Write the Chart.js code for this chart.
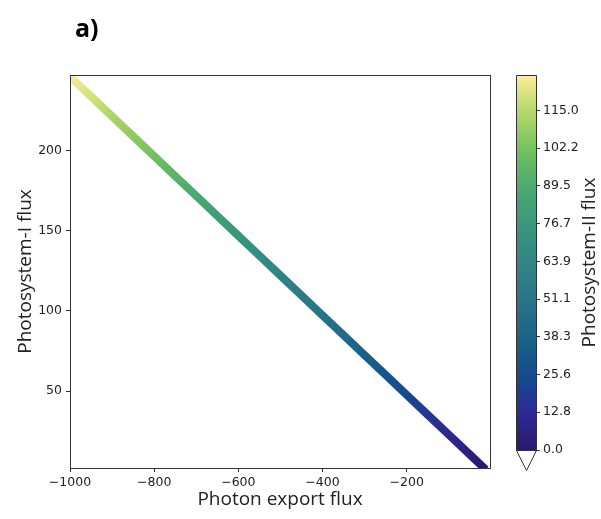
<!DOCTYPE html>
<html>
<head>
<meta charset="utf-8">
<script src="https://cdn.jsdelivr.net/npm/chart.js@4.4.1/dist/chart.umd.min.js"></script>
<style>
html, body { margin: 0; padding: 0; background: #fff; }
#wrap { position: relative; width: 601px; height: 519px; }
#wrap canvas { position: absolute; left: 0; top: 0; }
</style>
</head>
<body>
<div id="wrap">
  <canvas id="main" width="601" height="519"></canvas>
  <canvas id="cbar" width="601" height="519"></canvas>
</div>
<script>
// valores
const photonExport = [-1000, -950, -900, -850, -800, -750, -700, -650, -600, -550, -500,
                      -450, -400, -350, -300, -250, -200, -150, -100, -50, -12];
const psiFlux = [246.0, 233.6, 221.2, 208.8, 196.4, 184.0, 171.6, 159.2, 146.8, 134.4, 122.0,
                 109.6, 97.2, 84.8, 72.4, 60.0, 47.6, 35.2, 22.8, 10.4, 1.0];
const psiiFlux = [126, 120, 113, 107, 101, 94, 88, 81, 75, 69, 62,
                  56, 49, 43, 37, 30, 24, 18, 11, 5, 0];
const xTicks = [-1000, -800, -600, -400, -200];
const yTicks = [50, 100, 150, 200];
const cbTicks = [0.0, 12.8, 25.6, 38.3, 51.1, 63.9, 76.7, 89.5, 102.2, 115.0];
const cbMax = 127.0;

// mapa de color (tipo "haline")
const cmap = [
  [0.00, '#2a186c'], [0.10, '#2c2a96'], [0.20, '#144c8e'], [0.30, '#1a6389'],
  [0.40, '#2a7488'], [0.50, '#318585'], [0.60, '#3a977c'], [0.70, '#4aaa70'],
  [0.80, '#73c160'], [0.90, '#b4d66a'], [1.00, '#fdee99']
];

function hex(c) { return [1, 3, 5].map(i => parseInt(c.substr(i, 2), 16)); }
function colorAt(t) {
  t = Math.max(0, Math.min(1, t));
  for (let i = 1; i < cmap.length; i++) {
    if (t <= cmap[i][0]) {
      const a = cmap[i - 1], b = cmap[i];
      const f = (t - a[0]) / (b[0] - a[0]);
      const ca = hex(a[1]), cb = hex(b[1]);
      const m = ca.map((v, k) => Math.round(v + (cb[k] - v) * f));
      return `rgb(${m[0]},${m[1]},${m[2]})`;
    }
  }
  return cmap[cmap.length - 1][1];
}

const tickFont = { family: 'DejaVu Sans', size: 12.5 };
const titleFont = { family: 'Open Sans', size: 19 };
const ink = '#222';
const frame = '#333';
const fmtMinus = v => (v < 0 ? '\u2212' + Math.abs(v) : String(v));

// gradiente a lo largo de la línea, según el flujo PSII
function lineGradient(context) {
  const chart = context.chart;
  const xs = chart.scales.x, ys = chart.scales.y;
  if (!chart.chartArea || !xs || !ys) return '#318585';
  const px = photonExport.map(v => xs.getPixelForValue(v));
  const py = psiFlux.map(v => ys.getPixelForValue(v));
  const n = px.length - 1;
  const dx = px[n] - px[0], dy = py[n] - py[0];
  const len2 = dx * dx + dy * dy;
  const g = chart.ctx.createLinearGradient(px[0], py[0], px[n], py[n]);
  for (let i = 0; i <= n; i++) {
    const t = ((px[i] - px[0]) * dx + (py[i] - py[0]) * dy) / len2;
    g.addColorStop(Math.max(0, Math.min(1, t)), colorAt(psiiFlux[i] / cbMax));
  }
  return g;
}

const boxPlugin = {
  id: 'box',
  afterDraw(chart) {
    const { ctx, chartArea: a } = chart;
    ctx.save();
    ctx.strokeStyle = frame;
    ctx.lineWidth = 1;
    ctx.strokeRect(Math.round(a.left) + 0.5, Math.round(a.top) + 0.5,
                   Math.round(a.right - a.left), Math.round(a.bottom - a.top));
    ctx.fillStyle = '#000';
    ctx.font = 'bold 25px "Open Sans"';
    ctx.textBaseline = 'alphabetic';
    ctx.fillText('a)', 75, 37);
    ctx.restore();
  }
};

new Chart(document.getElementById('main'), {
  type: 'scatter',
  data: {
    datasets: [{
      data: photonExport.map((x, i) => ({ x: x, y: psiFlux[i] })),
      showLine: true,
      borderColor: lineGradient,
      borderWidth: 8,
      borderCapStyle: 'butt',
      pointRadius: 0,
      clip: 0
    }]
  },
  options: {
    responsive: false,
    animation: false,
    layout: { padding: { top: 75, right: 111, left: 0, bottom: 0 } },
    plugins: { legend: { display: false }, tooltip: { enabled: false } },
    scales: {
      x: {
        type: 'linear', min: -1000, max: -2,
        afterBuildTicks: s => { s.ticks = xTicks.map(v => ({ value: v })); },
        afterFit: s => { s.height = 51; },
        grid: { drawOnChartArea: false, drawTicks: true, tickLength: 4, color: frame },
        border: { color: frame },
        ticks: { font: tickFont, color: ink, padding: 3, maxRotation: 0, autoSkip: false, callback: v => fmtMinus(v) },
        title: { display: true, text: 'Photon export flux', font: titleFont, color: ink, padding: { top: 0, bottom: 8 } }
      },
      y: {
        type: 'linear', min: 2, max: 247,
        afterBuildTicks: s => { s.ticks = yTicks.map(v => ({ value: v })); },
        afterFit: s => { s.width = 70; },
        grid: { drawOnChartArea: false, drawTicks: true, tickLength: 4, color: frame },
        border: { color: frame },
        ticks: { font: tickFont, color: ink, padding: 4, autoSkip: false },
        title: { display: true, text: 'Photosystem-I flux', font: titleFont, color: ink, padding: { top: 14, bottom: 0 } }
      }
    }
  },
  plugins: [boxPlugin]
});

// barra de color
const cbarPlugin = {
  id: 'cbarFill',
  beforeDatasetsDraw(chart) {
    const { ctx, chartArea: a } = chart;
    const ys = chart.scales.y;
    ctx.save();
    const g = ctx.createLinearGradient(0, ys.getPixelForValue(0), 0, ys.getPixelForValue(cbMax));
    cmap.forEach(s => g.addColorStop(s[0], s[1]));
    ctx.fillStyle = g;
    ctx.fillRect(a.left, a.top, a.right - a.left, a.bottom - a.top);
    ctx.restore();
  },
  afterDraw(chart) {
    const { ctx, chartArea: a } = chart;
    const l = Math.round(a.left) + 0.5, r = Math.round(a.right) + 0.5;
    const t = Math.round(a.top) + 0.5, b = Math.round(a.bottom) + 0.5;
    ctx.save();
    ctx.strokeStyle = frame;
    ctx.lineWidth = 1;
    ctx.beginPath();
    ctx.moveTo(l, b); ctx.lineTo(l, t); ctx.lineTo(r, t); ctx.lineTo(r, b);
    ctx.lineTo((l + r) / 2, b + 20); ctx.closePath();
    ctx.stroke();
    ctx.beginPath();
    ctx.moveTo(l, b); ctx.lineTo(r, b);
    ctx.stroke();
    ctx.translate(590, (a.top + a.bottom) / 2);
    ctx.rotate(-Math.PI / 2);
    ctx.fillStyle = ink;
    ctx.font = '19px "Open Sans"';
    ctx.textAlign = 'center';
    ctx.textBaseline = 'middle';
    ctx.fillText('Photosystem-II flux', 0, 0);
    ctx.restore();
  }
};

new Chart(document.getElementById('cbar'), {
  type: 'scatter',
  data: { datasets: [{ data: [] }] },
  options: {
    responsive: false,
    animation: false,
    layout: { padding: { top: 75, right: 0, left: 516, bottom: 69 } },
    plugins: { legend: { display: false }, tooltip: { enabled: false } },
    scales: {
      x: { display: false, min: 0, max: 1 },
      y: {
        type: 'linear', position: 'right', min: 0, max: cbMax,
        afterBuildTicks: s => { s.ticks = cbTicks.map(v => ({ value: v })); },
        afterFit: s => { s.width = 65; },
        grid: { drawOnChartArea: false, drawTicks: true, tickLength: 4, color: frame },
        border: { display: false },
        ticks: { font: tickFont, color: ink, padding: 3, autoSkip: false, callback: v => v.toFixed(1) }
      }
    }
  },
  plugins: [cbarPlugin]
});
</script>
</body>
</html>
